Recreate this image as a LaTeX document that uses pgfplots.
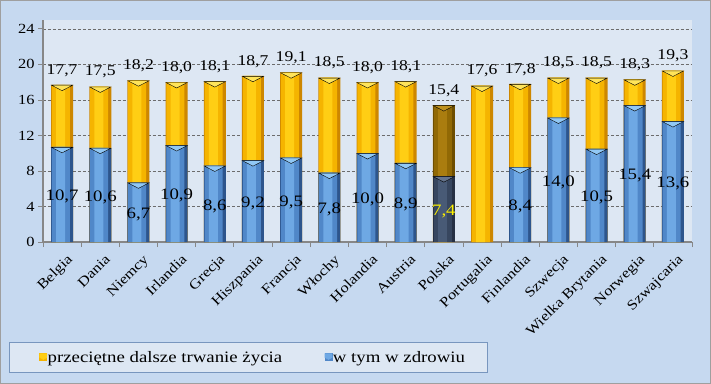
\documentclass[border=0pt]{standalone}
\usepackage{fontspec}
\setmainfont[FakeStretch=1.18]{Liberation Serif}
\usepackage{pgfplots}
\usepackage{pgfplotstable}
\pgfplotsset{compat=1.18}
\definecolor{outerbg}{RGB}{198,217,240}
\definecolor{plotbg}{RGB}{221,231,243}
\definecolor{axisgray}{RGB}{135,135,135}
\definecolor{legborder}{RGB}{120,150,190}
\definecolor{ylD}{RGB}{205,135,0}
\definecolor{ylM}{RGB}{245,180,0}
\definecolor{ylB}{RGB}{255,206,20}
\definecolor{ylT}{RGB}{255,228,90}
\definecolor{blD}{RGB}{45,85,140}
\definecolor{blM}{RGB}{80,135,200}
\definecolor{blB}{RGB}{110,168,228}
\definecolor{blT}{RGB}{145,200,245}
\definecolor{pyD}{RGB}{110,78,0}
\definecolor{pyM}{RGB}{145,105,5}
\definecolor{pyB}{RGB}{170,125,15}
\definecolor{pyT}{RGB}{190,145,30}
\definecolor{pbD}{RGB}{38,48,68}
\definecolor{pbM}{RGB}{55,70,95}
\definecolor{pbB}{RGB}{72,90,118}
\definecolor{pbT}{RGB}{100,115,140}
\pgfplotstableread{
x y
0 17.7
1 17.5
2 18.2
3 18.0
4 18.1
5 18.7
6 19.1
7 18.5
8 18.0
9 18.1
10 15.4
11 17.6
12 17.8
13 18.5
14 18.5
15 18.3
16 19.3
}\totals
\pgfplotstableread{
x y
0 10.7
1 10.6
2 6.7
3 10.9
4 8.6
5 9.2
6 9.5
7 7.8
8 10.0
9 8.9
12 8.4
13 14.0
14 10.5
15 15.4
16 13.6
}\healthy
\pgfplotstableread{
x y
10 15.4
}\pltotal
\pgfplotstableread{
x y
10 7.4
}\plhealthy
\pgfplotstableread{
x pos val
0 5.1 10.7
1 5.05 10.6
2 3.1 6.7
3 5.2 10.9
4 4.05 8.6
5 4.35 9.2
6 4.5 9.5
7 3.65 7.8
8 4.75 10.0
9 4.2 8.9
12 3.95 8.4
13 6.75 14.0
14 5.0 10.5
15 7.45 15.4
16 6.55 13.6
}\hlabels
\pgfplotstableread{
x pos val
10 3.45 7.4
}\pllabel
\pgfplotsset{
  ybD/.style={ybar, bar width=22bp, bar shift=0pt, draw=none, forget plot},
  ybM/.style={ybar, bar width=18bp, bar shift=-1.2bp, draw=none, forget plot},
  ybB/.style={ybar, bar width=9bp, bar shift=-1.5bp, draw=none, forget plot},
  chev/.style={forget plot, only marks, mark=triangle*, mark size=12.2bp,
    mark options={yshift=-2.2bp, rotate=180, yscale=0.3, draw=none, fill=#1}},
  lab/.style={forget plot, draw=none, mark=none, point meta=explicit,
    nodes near coords={\pgfmathprintnumber[fixed,fixed zerofill,precision=1,use comma]{\pgfplotspointmeta}},
    every node near coord/.append style={anchor=center, font=\fontsize{16}{17}\selectfont}},
}
\begin{document}
\begin{tikzpicture}
\fill[outerbg] (0,0) rectangle (711bp,384bp);
\useasboundingbox (0,0) rectangle (711bp,384bp);
\begin{axis}[
  at={(43bp,142bp)}, anchor=south west, scale only axis,
  width=649bp, height=222bp,
  xmin=-0.5, xmax=16.5, ymin=0, ymax=25,
  axis lines*=left,
  axis line style={draw=axisgray, line width=1.3pt},
  axis background/.style={fill=plotbg},
  ytick={0,4,...,24},
  ymajorgrids,
  major grid style={densely dashed, gray!85!black, line width=0.5pt},
  xtick={0,...,16},
  xticklabels={Belgia,Dania,Niemcy,Irlandia,Grecja,Hiszpania,Francja,Włochy,Holandia,Austria,Polska,Portugalia,Finlandia,Szwecja,Wielka Brytania,Norwegia,Szwajcaria},
  minor xtick={-0.5,0.5,...,16.5},
  tick align=outside,
  major tick length=5bp, minor tick length=5bp,
  major x tick style={draw=none},
  minor x tick style={draw=axisgray, line width=0.8pt},
  y tick style={draw=axisgray, line width=0.8pt},
  x tick label style={xshift=4bp, yshift=-5bp, rotate=45, anchor=north east, font=\fontsize{14}{15}\selectfont, inner sep=1bp},
  y tick label style={font=\fontsize{14}{15}\selectfont},
  /pgf/number format/assume math mode=true,
  clip=false,
  legend columns=2,
  legend cell align=left,
  legend style={at={(axis description cs:-0.0524,-0.590)}, anchor=south west,
    fill=plotbg, draw=legborder, line width=0.8pt,
    font=\fontsize{16}{17}\selectfont, inner xsep=22bp, inner ysep=7bp,
    /tikz/every even column/.append style={column sep=34bp},
    nodes={inner xsep=0.5bp}},
]
% total life expectancy (layered to imitate the shading)
\addplot[ybD, fill=ylD] table {\totals};
\addplot[ybM, fill=ylM] table {\totals};
\addplot[ybB, fill=ylB, nodes near coords={\pgfmathprintnumber[fixed,fixed zerofill,precision=1,use comma]{\pgfplotspointmeta}},
  every node near coord/.append style={font=\fontsize{15}{16}\selectfont, yshift=5bp, text=black}] table {\totals};
\addplot[chev=ylT, skip coords between index={10}{11}] table {\totals};
\addplot[ybD, fill=pyD] table {\pltotal};
\addplot[ybM, fill=pyM] table {\pltotal};
\addplot[ybB, fill=pyB] table {\pltotal};
\addplot[chev=pyT] table {\pltotal};
% healthy years
\addplot[ybD, fill=blD] table {\healthy};
\addplot[ybM, fill=blM] table {\healthy};
\addplot[ybB, fill=blB] table {\healthy};
\addplot[chev=blT] table {\healthy};
\addplot[ybD, fill=pbD] table {\plhealthy};
\addplot[ybM, fill=pbM] table {\plhealthy};
\addplot[ybB, fill=pbB] table {\plhealthy};
\addplot[chev=pbT] table {\plhealthy};
% labels
\addplot[lab] table[x=x, y=pos, meta=val] {\hlabels};
\addplot[lab, every node near coord/.append style={text=yellow}] table[x=x, y=pos, meta=val] {\pllabel};
% legend entries
\addlegendimage{legend image code/.code={\path (0bp,0bp); \fill[ylM] (8bp,-3.5bp) rectangle (15bp,3.5bp); \fill[ylB] (8bp,0bp) -- (11.5bp,-2bp) -- (15bp,0bp) -- (15bp,3.5bp) -- (8bp,3.5bp) -- cycle;}}
\addlegendentry{przeciętne dalsze trwanie życia}
\addlegendimage{legend image code/.code={\path (0bp,0bp); \fill[blM] (8bp,-3.5bp) rectangle (15bp,3.5bp); \fill[blB] (8bp,0bp) -- (11.5bp,-2bp) -- (15bp,0bp) -- (15bp,3.5bp) -- (8bp,3.5bp) -- cycle;}}
\addlegendentry{w tym w zdrowiu}
\end{axis}
\draw[gray!75, line width=1pt] (0.5bp,0.5bp) rectangle (710.5bp,383.5bp);
\end{tikzpicture}
\end{document}
